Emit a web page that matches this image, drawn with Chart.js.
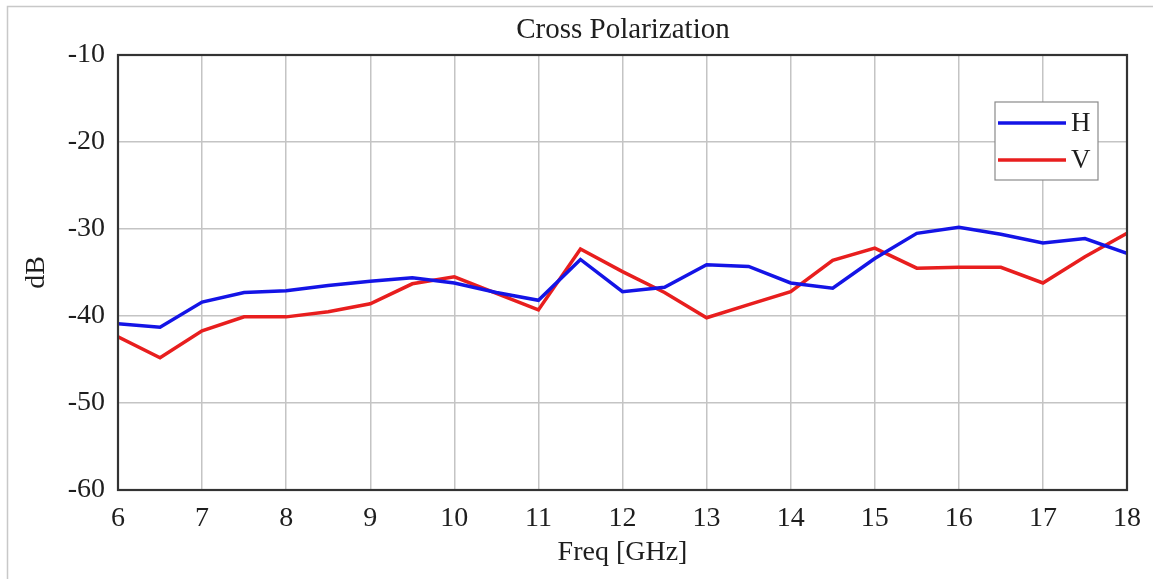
<!DOCTYPE html>
<html>
<head>
<meta charset="utf-8">
<script src="https://cdn.jsdelivr.net/npm/chart.js@4.4.1/dist/chart.umd.min.js"></script>
<style>
  html, body { margin: 0; padding: 0; background: #fff; }
  #wrap { width: 1153px; height: 579px; position: relative; }
</style>
</head>
<body>
<div id="wrap"><canvas id="xpolChart" width="1153" height="579"></canvas></div>
<script>
// frekuensi (GHz) dan nilai cross-pol (dB)
const freqGHz = [6, 6.5, 7, 7.5, 8, 8.5, 9, 9.5, 10, 10.5, 11, 11.5, 12,
                 12.5, 13, 13.5, 14, 14.5, 15, 15.5, 16, 16.5, 17, 17.5, 18];
const polH = [-40.9, -41.3, -38.4, -37.3, -37.1, -36.5, -36.0, -35.6, -36.2, -37.3, -38.2, -33.5, -37.2,
              -36.7, -34.1, -34.3, -36.2, -36.8, -33.4, -30.5, -29.8, -30.6, -31.6, -31.1, -32.8];
const polV = [-42.4, -44.8, -41.7, -40.1, -40.1, -39.5, -38.6, -36.3, -35.5, -37.4, -39.3, -32.3, -34.9,
              -37.3, -40.2, -38.7, -37.2, -33.6, -32.2, -34.5, -34.4, -34.4, -36.2, -33.2, -30.5];
const seriesNames = ["H", "V"];
const xTicks = [6, 7, 8, 9, 10, 11, 12, 13, 14, 15, 16, 17, 18];
const yTicks = [-60, -50, -40, -30, -20, -10];

const serif = "'Liberation Serif', 'Times New Roman', serif";

// judul, bingkai plot, bingkai luar dan legenda digambar manual
const decorPlugin = {
    id: "decor",
    beforeDraw(chart) {
        const c = chart.ctx;
        c.save();
        c.fillStyle = "#fff";
        c.fillRect(0, 0, chart.width, chart.height);
        c.strokeStyle = "#c8c8c8";
        c.lineWidth = 1.5;
        c.strokeRect(7.5, 6.5, chart.width + 20, chart.height + 20);
        c.restore();
    },
    afterDraw(chart) {
        const c = chart.ctx;
        const a = chart.chartArea;
        c.save();
        c.strokeStyle = "#333";
        c.lineWidth = 2.2;
        c.strokeRect(a.left, a.top, a.right - a.left, a.bottom - a.top);

        c.fillStyle = "#1e1e1e";
        c.font = "29px " + serif;
        c.textAlign = "center";
        c.textBaseline = "middle";
        c.fillText("Cross Polarization", 623, 30);

        // legenda
        const bx = 995, by = 102, bw = 103, bh = 78;
        c.fillStyle = "#fff";
        c.fillRect(bx, by, bw, bh);
        c.strokeStyle = "#8a8a8a";
        c.lineWidth = 1.2;
        c.strokeRect(bx, by, bw, bh);
        chart.data.datasets.forEach((ds, i) => {
            const y = 123 + i * 37;
            c.strokeStyle = ds.borderColor;
            c.lineWidth = 3.5;
            c.beginPath();
            c.moveTo(998, y);
            c.lineTo(1066, y);
            c.stroke();
            c.fillStyle = "#1e1e1e";
            c.font = "27px " + serif;
            c.textAlign = "left";
            c.fillText(ds.label, 1071, y + 1);
        });
        c.restore();
    }
};

function initChart() {
    const ctx = document.getElementById("xpolChart").getContext("2d");
    new Chart(ctx, {
        type: "line",
        data: {
            datasets: [
                {
                    label: seriesNames[0],
                    data: freqGHz.map((f, i) => ({ x: f, y: polH[i] })),
                    borderColor: "#1414e6",
                    borderWidth: 3.5,
                    pointRadius: 0,
                    tension: 0
                },
                {
                    label: seriesNames[1],
                    data: freqGHz.map((f, i) => ({ x: f, y: polV[i] })),
                    borderColor: "#e81e1e",
                    borderWidth: 3.5,
                    pointRadius: 0,
                    tension: 0
                }
            ]
        },
        options: {
            responsive: false,
            animation: false,
            layout: { padding: { top: 55, right: 25, left: 0, bottom: 0 } },
            plugins: {
                legend: { display: false },
                title: { display: false },
                tooltip: { enabled: false }
            },
            scales: {
                x: {
                    type: "linear",
                    min: 6,
                    max: 18,
                    afterBuildTicks: s => { s.ticks = xTicks.map(v => ({ value: v })); },
                    afterFit: s => { s.height = 89; },
                    grid: { color: "#c4c4c4", lineWidth: 1.5, drawTicks: false },
                    border: { display: false },
                    ticks: {
                        color: "#1e1e1e",
                        font: { family: serif, size: 28 },
                        padding: 12,
                        maxRotation: 0
                    },
                    title: {
                        display: true,
                        text: "Freq [GHz]",
                        color: "#1e1e1e",
                        font: { family: serif, size: 28 },
                        padding: { top: 0, bottom: 10 }
                    }
                },
                y: {
                    type: "linear",
                    min: -60,
                    max: -10,
                    afterBuildTicks: s => { s.ticks = yTicks.map(v => ({ value: v })); },
                    afterFit: s => { s.width = 118; },
                    grid: { color: "#c4c4c4", lineWidth: 1.5, drawTicks: false },
                    border: { display: false },
                    ticks: {
                        color: "#1e1e1e",
                        font: { family: serif, size: 28 },
                        padding: 13
                    },
                    title: {
                        display: true,
                        text: "dB",
                        color: "#1e1e1e",
                        font: { family: serif, size: 28 },
                        padding: { top: 20, bottom: 0 }
                    }
                }
            }
        },
        plugins: [decorPlugin]
    });
}

document.addEventListener("DOMContentLoaded", initChart);
</script>
</body>
</html>
